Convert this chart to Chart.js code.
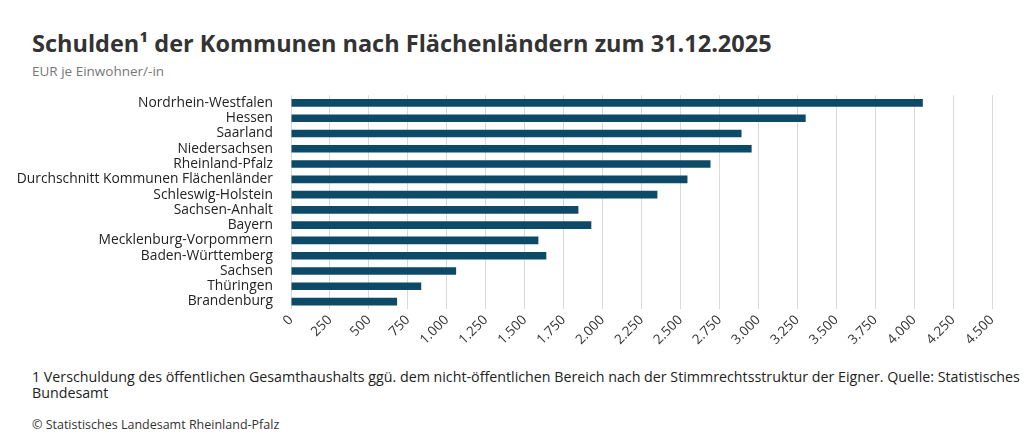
<!DOCTYPE html>
<html><head><meta charset="utf-8">
<script src="https://cdn.jsdelivr.net/npm/chart.js@4"></script>
<style>
body{margin:0;width:1024px;height:437px;background:#fff;font-family:"Open Sans",sans-serif;color:#222;position:relative;overflow:hidden}
#t{position:absolute;left:32px;top:27px;font-size:23.5px;font-weight:bold;color:#333}
#s{position:absolute;left:32px;top:62px;font-size:13.5px;color:#777}
#box{position:absolute;left:0;top:77px;width:1010px;height:274px}
#f{position:absolute;left:32px;top:369px;font-size:14.25px;line-height:16px;color:#222}
#c{position:absolute;left:32px;top:416px;font-size:12.5px;color:#333}
</style></head><body>
<div id="t">Schulden¹ der Kommunen nach Flächenländern zum 31.12.2025</div>
<div id="s">EUR je Einwohner/-in</div>
<div id="box"><canvas id="chart"></canvas></div>
<div id="f">1 Verschuldung des öffentlichen Gesamthaushalts ggü. dem nicht-öffentlichen Bereich nach der Stimmrechtsstruktur der Eigner. Quelle: Statistisches<br>Bundesamt</div>
<div id="c">© Statistisches Landesamt Rheinland-Pfalz</div>
<script>
const laender = ['Nordrhein-Westfalen','Hessen','Saarland','Niedersachsen','Rheinland-Pfalz','Durchschnitt Kommunen Flächenländer','Schleswig-Holstein','Sachsen-Anhalt','Bayern','Mecklenburg-Vorpommern','Baden-Württemberg','Sachsen','Thüringen','Brandenburg'];
const schulden = [4056,3304,2892,2957,2693,2545,2352,1845,1928,1588,1639,1060,836,681];

function fmt(v){
    return String(v).replace(/\B(?=(\d{3})+(?!\d))/g,'.');
}

new Chart(document.getElementById('chart'), {
    type: 'bar',
    data: {
        labels: laender,
        datasets: [{
            data: schulden,
            backgroundColor: '#0d4a68',
            barPercentage: 0.5,
            categoryPercentage: 1
        }]
    },
    options: {
        indexAxis: 'y',
        responsive: true,
        maintainAspectRatio: false,
        animation: false,
        layout: {padding: {right: 18}},
        plugins: {legend: {display: false}, tooltip: {enabled: false}},
        scales: {
            x: {
                min: 0, max: 4500,
                ticks: {stepSize: 250, maxRotation: 45, minRotation: 45, color: '#333', font: {family: 'Open Sans', size: 13.5}, callback: v => fmt(v)},
                grid: {color: '#d9d9d9', drawTicks: false},
                border: {display: false}
            },
            y: {
                afterFit: s => { s.width = 291; },
                ticks: {autoSkip: false, color: '#222', font: {family: 'Open Sans', size: 13.8}, padding: 10},
                grid: {display: false},
                border: {display: false}
            }
        }
    }
});
</script>
</body></html>
